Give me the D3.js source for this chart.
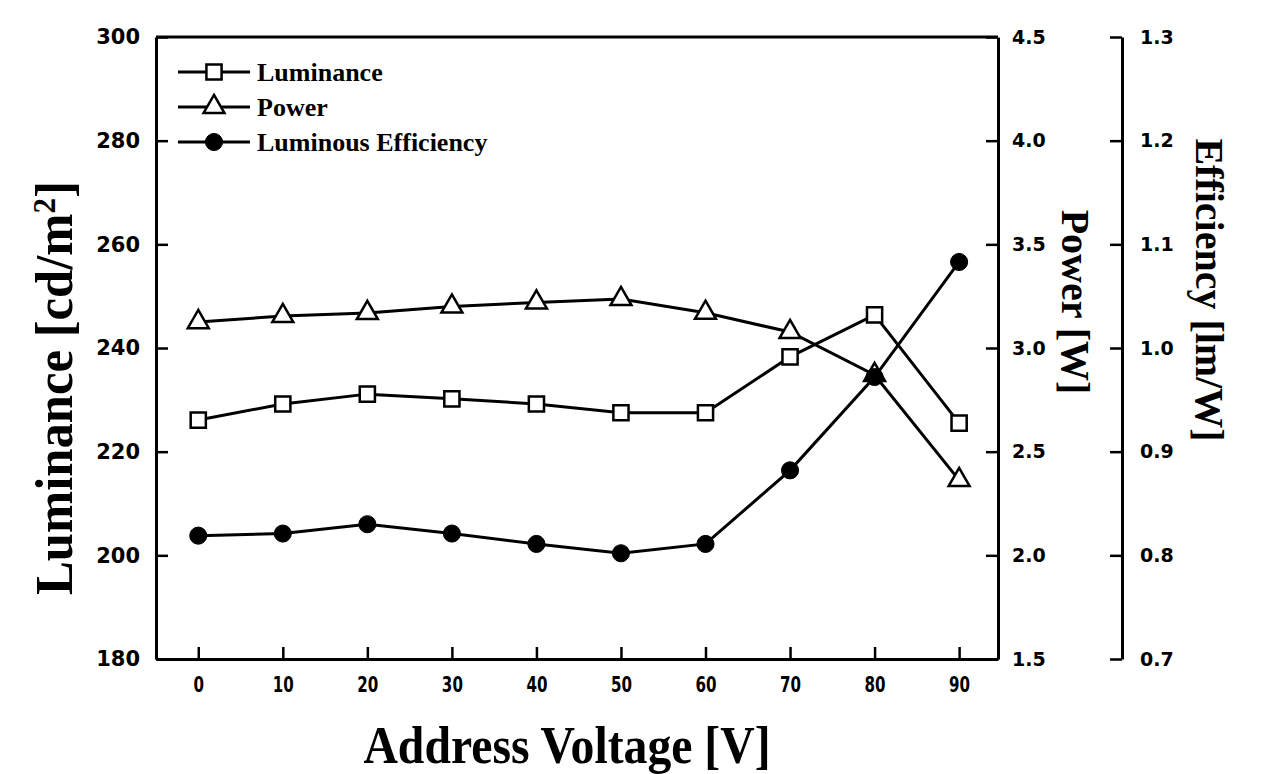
<!DOCTYPE html>
<html>
<head>
<meta charset="utf-8">
<script src="https://cdn.jsdelivr.net/npm/d3@7"></script>
<style>
  body { margin: 0; background: #fff; }
  .tick text { font-family: "DejaVu Sans", "Liberation Sans", Arial, sans-serif; font-weight: bold; }
</style>
</head>
<body>
<div id="chart"></div>
<script>
// Data
var voltage = [0, 10, 20, 30, 40, 50, 60, 70, 80, 90];
var luminance = [226.1, 229.2, 231.1, 230.2, 229.2, 227.5, 227.5, 238.3, 246.4, 225.5];
var power = [3.125, 3.154, 3.169, 3.20, 3.22, 3.236, 3.17, 3.077, 2.87, 2.363];
var efficiency = [0.819, 0.821, 0.830, 0.821, 0.811, 0.802, 0.811, 0.882, 0.972, 1.083];

var xTicks = [0, 10, 20, 30, 40, 50, 60, 70, 80, 90];
var lumTicks = [180, 200, 220, 240, 260, 280, 300];
var powTicks = [1.5, 2.0, 2.5, 3.0, 3.5, 4.0, 4.5];
var effTicks = [0.7, 0.8, 0.9, 1.0, 1.1, 1.2, 1.3];
var legendNames = ["Luminance", "Power", "Luminous Efficiency"];

var svgWidth = 1264;
var svgHeight = 774;

var margin = { top: 37, left: 156, bottom: 115, right: 266 };
var width = svgWidth - margin.left - margin.right;
var height = svgHeight - margin.top - margin.bottom;

var svg = d3.select("#chart")
  .append("svg")
  .attr("width", svgWidth)
  .attr("height", svgHeight);

var chartGroup = svg.append("g")
  .attr("transform", `translate(${margin.left}, ${margin.top})`);

// Scales
var xScale = d3.scaleLinear().domain([-5, 94.6]).range([0, width]);
var yLum = d3.scaleLinear().domain([180, 300]).range([height, 0]);
var yPow = d3.scaleLinear().domain([1.5, 4.5]).range([height, 0]);
var yEff = d3.scaleLinear().domain([0.7, 1.3]).range([height, 0]);

// Box top line
chartGroup.append("line")
  .attr("x1", 0).attr("x2", width)
  .attr("y1", 0).attr("y2", 0)
  .attr("stroke", "#000").attr("stroke-width", 3);

// Axes (ticks pointing inward)
var bottomAxis = d3.axisBottom(xScale).tickValues(xTicks).tickSizeInner(-12).tickSizeOuter(0).tickPadding(18);
var leftAxis = d3.axisLeft(yLum).tickValues(lumTicks).tickSizeInner(-12).tickSizeOuter(0).tickPadding(16);
var rightAxis = d3.axisRight(yPow).tickValues(powTicks).tickFormat(d3.format(".1f")).tickSizeInner(-12).tickSizeOuter(0).tickPadding(14);
var effAxis = d3.axisRight(yEff).tickValues(effTicks).tickFormat(d3.format(".1f")).tickSizeInner(-12).tickSizeOuter(0).tickPadding(18);

function styleAxis(g) {
  g.select(".domain").attr("stroke-width", 3);
  g.selectAll(".tick line").attr("stroke-width", 2.5);
  g.selectAll(".tick text").attr("fill", "#000");
}

chartGroup.append("g")
  .attr("transform", `translate(0,${height})`)
  .call(bottomAxis).call(styleAxis)
  .selectAll(".tick text")
  .attr("font-size", "21px")
  .attr("transform", "scale(0.72,1)");

chartGroup.append("g")
  .call(leftAxis).call(styleAxis)
  .selectAll(".tick text").attr("font-size", "21px");

chartGroup.append("g")
  .attr("transform", `translate(${width},0)`)
  .call(rightAxis).call(styleAxis)
  .selectAll(".tick text").attr("font-size", "19px");

chartGroup.append("g")
  .attr("transform", `translate(${width + 124},0)`)
  .call(effAxis).call(styleAxis)
  .selectAll(".tick text").attr("font-size", "19px");

// Lines
var series = [
  { values: luminance, y: yLum, marker: "square" },
  { values: power, y: yPow, marker: "triangle" },
  { values: efficiency, y: yEff, marker: "circle" }
];

series.forEach(function (s) {
  var line = d3.line()
    .x((d, i) => xScale(voltage[i]))
    .y(d => s.y(d));
  chartGroup.append("path")
    .datum(s.values)
    .attr("d", line)
    .attr("fill", "none")
    .attr("stroke", "#000")
    .attr("stroke-width", 3);
});

var symSquare = d3.symbol().type(d3.symbolSquare).size(230);
var symTriangle = d3.symbol().type(d3.symbolTriangle).size(190);
var symCircle = d3.symbol().type(d3.symbolCircle).size(230);

function drawMarker(g, type) {
  if (type === "square") {
    g.append("path").attr("d", symSquare()).attr("fill", "#fff").attr("stroke", "#000").attr("stroke-width", 2.5);
  } else if (type === "triangle") {
    g.append("path").attr("d", symTriangle()).attr("fill", "#fff").attr("stroke", "#000").attr("stroke-width", 2.5);
  } else {
    g.append("path").attr("d", symCircle()).attr("fill", "#000").attr("stroke", "#000").attr("stroke-width", 1);
  }
}

series.forEach(function (s) {
  s.values.forEach(function (d, i) {
    var g = chartGroup.append("g")
      .attr("transform", `translate(${xScale(voltage[i])},${s.y(d)})`);
    drawMarker(g, s.marker);
  });
});

// Legend
var legend = chartGroup.append("g").attr("transform", "translate(22, 35)");
legendNames.forEach(function (name, i) {
  var row = legend.append("g").attr("transform", `translate(0, ${i * 35})`);
  row.append("line").attr("x1", 0).attr("x2", 72).attr("y1", 0).attr("y2", 0)
    .attr("stroke", "#000").attr("stroke-width", 3);
  var m = row.append("g").attr("transform", "translate(36,0)");
  drawMarker(m, series[i].marker);
  row.append("text")
    .attr("x", 79).attr("y", 9)
    .text(name)
    .attr("font-family", "'Liberation Serif', 'Times New Roman', serif")
    .attr("font-weight", "bold")
    .attr("font-size", "26px");
});

// Axis titles
var titleFont = "'Liberation Serif', 'Times New Roman', serif";

svg.append("text")
  .attr("transform", "translate(567, 763) scale(0.9,1)")
  .attr("text-anchor", "middle")
  .attr("font-family", titleFont)
  .attr("font-weight", "bold")
  .attr("font-size", "53px")
  .text("Address Voltage [V]");

var lumTitle = svg.append("text")
  .attr("transform", "translate(72, 388) rotate(-90) scale(0.975,1)")
  .attr("text-anchor", "middle")
  .attr("font-family", titleFont)
  .attr("font-weight", "bold")
  .attr("font-size", "52px");
lumTitle.append("tspan").text("Luminance [cd/m");
lumTitle.append("tspan").attr("baseline-shift", "super").attr("font-size", "32px").text("2");
lumTitle.append("tspan").text("]");

svg.append("text")
  .attr("transform", "translate(1062, 302) rotate(90)")
  .attr("text-anchor", "middle")
  .attr("font-family", titleFont)
  .attr("font-weight", "bold")
  .attr("font-size", "40px")
  .text("Power [W]");

svg.append("text")
  .attr("transform", "translate(1196, 290) rotate(90)")
  .attr("text-anchor", "middle")
  .attr("font-family", titleFont)
  .attr("font-weight", "bold")
  .attr("font-size", "40px")
  .text("Efficiency [lm/W]");
</script>
</body>
</html>
